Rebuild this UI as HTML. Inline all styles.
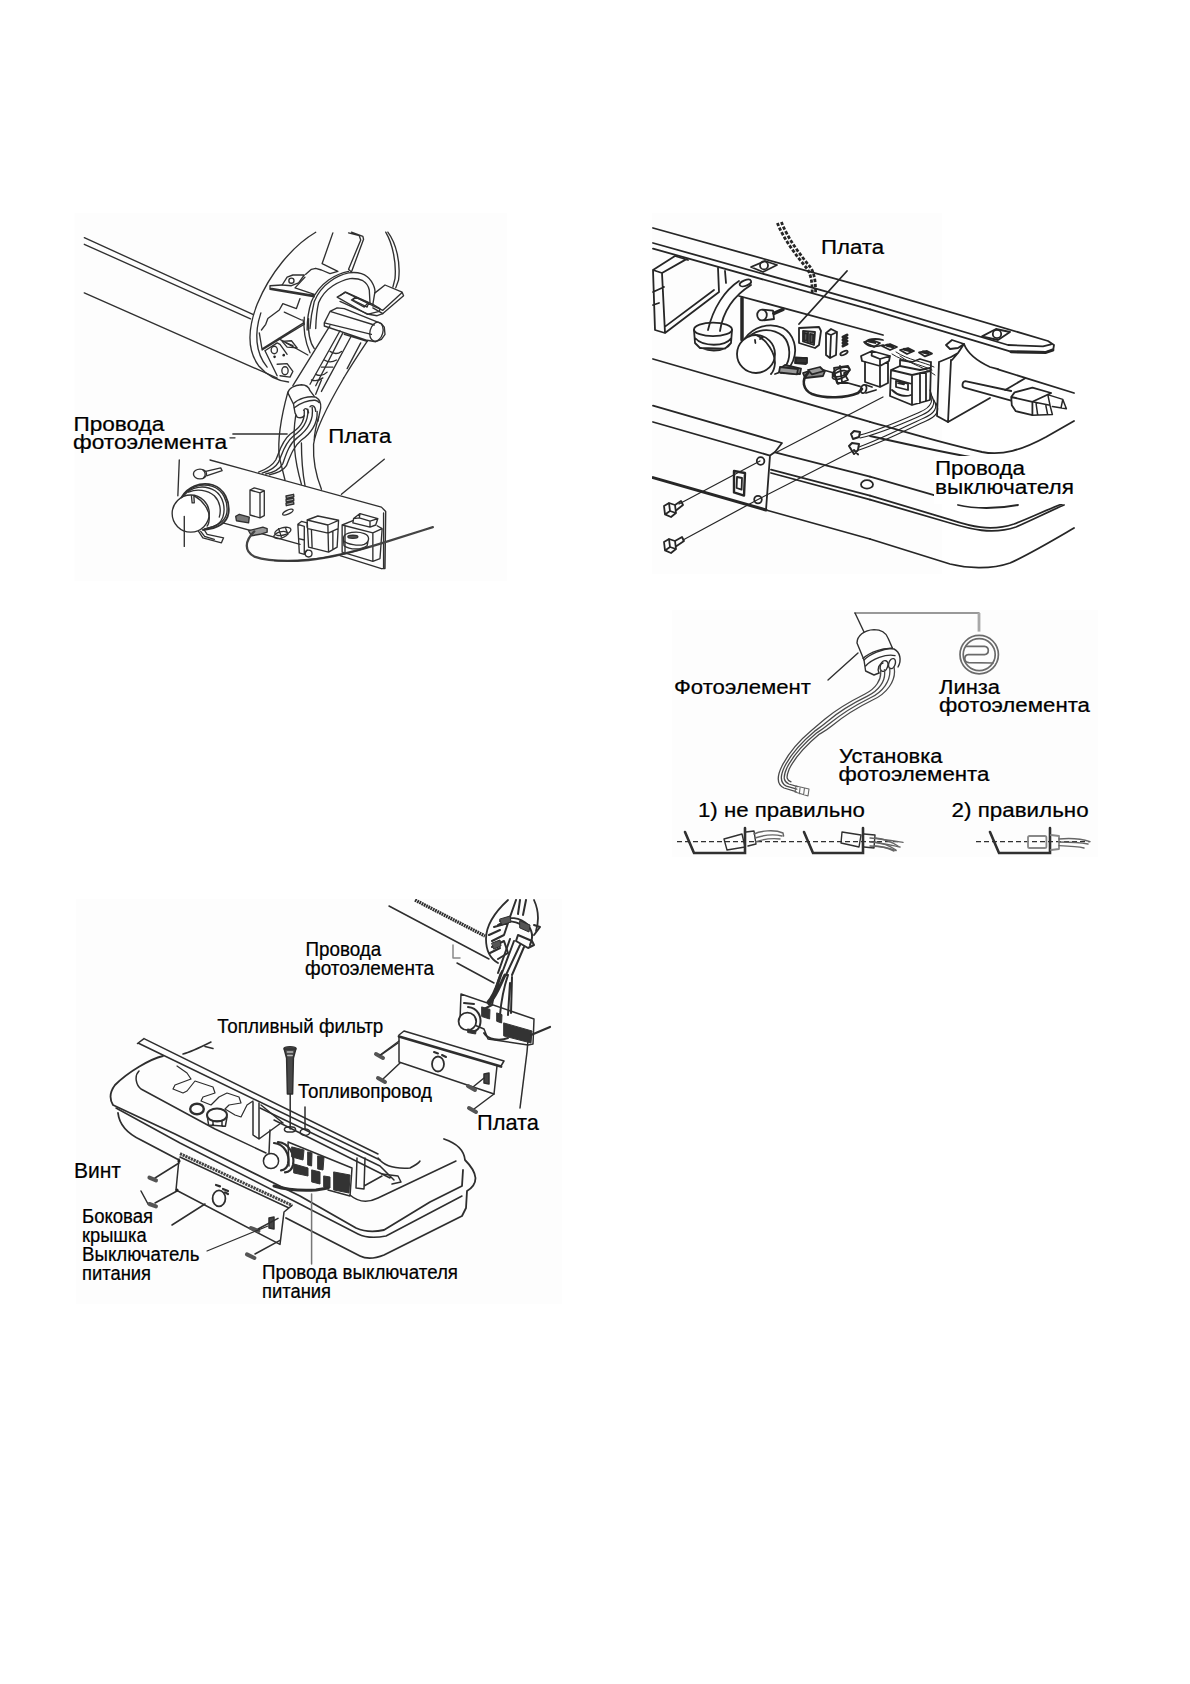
<!DOCTYPE html>
<html lang="ru"><head><meta charset="utf-8"><title>Страница</title>
<style>
html,body{margin:0;padding:0;background:#fff}
body{width:1190px;height:1684px;overflow:hidden;font-family:"Liberation Sans",sans-serif}
svg{display:block;position:absolute;left:0;top:0}
.l{fill:none;stroke-linecap:round;stroke-linejoin:round}
.l path,.l line,.l ellipse,.l circle,.l rect,.l polyline,.l polygon{vector-effect:non-scaling-stroke}
.t{fill:none;stroke:#333;stroke-width:2.2;stroke-linecap:round;stroke-linejoin:round}
.t path,.t line,.t polyline{vector-effect:non-scaling-stroke}
.w{fill:#fff}
.k{fill:#222;stroke:none}
text{font-family:"Liberation Sans",sans-serif;fill:#000;stroke:#000;stroke-width:0.22px}
</style></head><body>
<svg width="1190" height="1684" viewBox="0 0 1190 1684">
<g fill="#fdfdfd">
<rect x="74.500" y="213" width="432.500" height="368"/>
<rect x="652" y="213" width="290" height="361"/>
<rect x="672" y="610" width="426" height="247"/>
<rect x="76" y="899" width="486" height="405"/>
</g>

<!-- FIGURE 1 -->
<g class="l" stroke="#303030" stroke-width="1.35">
<!-- tile T1 origin 70,210 s3.5 : tube lines and ellipse -->
<g transform="translate(70,210) scale(0.285714)">
<path d="M50,97 L640,365 M50,120 L632,381 M50,290 L725,588"/>
<path d="M860,78 C780,125 700,220 655,330 C620,420 620,490 660,545 C690,580 730,598 765,602"/>
<path d="M668,360 C645,430 648,500 690,550"/>
</g>
<!-- tile A origin 230,210 s7 -->
<g transform="translate(230,210) scale(0.142857)">
<path d="M720,160 L645,375 L755,430 L700,445 L640,420 L600,408 L570,415 L530,450"/>
<path d="M830,160 L905,180 L915,210 L830,415 L850,435 M850,155 L930,185 L935,205 L852,428"/>
<path d="M365,525 L400,470 L440,455 L520,455 L480,510 L430,530 Z"/><circle cx="430" cy="495" r="18"/>
<path d="M280,530 L365,525 M280,530 L280,555 L590,607 M283,548 L590,598 M455,545 L590,590 M455,545 L525,470"/>
<path d="M490,620 L465,690 L370,655 L345,700 L265,760 L250,800 L220,840 M380,715 L500,770"/>
<path d="M560,830 C565,760 575,700 590,640 C615,580 650,535 700,500 C740,470 785,450 830,440 C865,435 895,437 920,445 C950,455 975,475 990,500 C1005,525 1015,550 1015,570 L1000,660"/>
<path d="M600,830 C602,760 608,700 620,650 C640,600 675,560 720,530 C760,505 800,488 840,480 C875,478 905,482 930,495 C955,510 970,535 975,560 L980,650"/>
<path d="M540,840 C540,770 550,700 570,640 C595,580 635,530 690,490 C735,460 780,440 830,430"/>
<path d="M750,610 L810,575 L1000,660 L1050,690 L1045,710 L960,730 Z M850,630 L880,610 L965,650 L940,680 Z"/>
</g>
<!-- tile C origin 340,230 s7 -->
<g transform="translate(340,230) scale(0.142857)">
<path d="M320,15 C370,100 395,230 385,340 L370,400 M335,15 C395,95 425,230 410,350 L390,405"/>
<path d="M245,440 L315,385 L435,435 L445,460 L300,585 L230,545 M435,437 L300,562 L228,530"/>
<path d="M0,460 L35,435 L230,530 M0,500 L200,590 L260,600 L300,585 M90,490 L110,470 L200,510 L190,540 Z"/>
<ellipse cx="255" cy="712" rx="45" ry="68" transform="rotate(15 255 712)"/>
</g>
<!-- tile B origin 230,300 s7 -->
<g transform="translate(230,300) scale(0.142857)">
<path d="M660,160 L700,80 L750,55 L800,60 L1060,165 L1080,190 L1085,240 L1060,275 L1020,292 L960,282 L660,182 Z M660,160 L990,240 M700,80 L1010,175 M800,240 L960,290"/>
<path d="M205,230 L225,350 L520,170 L510,140 M228,340 L515,160"/>
<path d="M245,355 L330,300 L350,310 L400,380 M245,355 L330,530 M340,270 L545,385"/>
<ellipse cx="310" cy="350" rx="22" ry="26"/><circle class="k" cx="312" cy="398" r="9"/><circle class="k" cx="376" cy="386" r="9"/>
<path d="M365,290 L430,285 L470,335 L400,330 Z M395,300 L440,320"/>
<path d="M330,450 L400,445 L440,500 L420,540 L350,530"/><ellipse cx="385" cy="495" rx="22" ry="28"/>
<path d="M520,120 C510,220 530,300 560,370 M550,130 C545,220 560,300 590,340"/>
<path d="M700,180 L440,600 M770,215 L560,590 M790,230 L600,600 M850,250 L640,640"/>
<path d="M960,290 C910,365 852.5,452.5 796,546 M915,300 L820,480"/>
<path d="M700,360 C730,380 760,375 780,360 M660,420 C690,440 720,435 745,420 M640,470 L720,470 M600,520 C630,535 660,525 680,505 M570,560 C600,570 630,560 650,545"/>

</g>
<!-- tile E origin 230,380 s7 -->
<g transform="translate(230,380) scale(0.142857)">
<path d="M20,378 L400,378 M0,405 L35,405"/>
<path d="M1080,555 L780,800"/>
<path d="M405,85 C365,230 330,400 345,540 L385,700"/>
<path d="M460,250 C435,400 450,560 500,730 M500,440 C500,560 510,660 525,740"/>
<path d="M796,-14 C700,150 600,330 585,450 C580,570 610,690 640,765"/>
<path d="M640,0 L600,100 M620,260 C600,330 590,380 590,420"/>
<path d="M405,90 C410,60 450,35 500,33 C530,33 550,45 560,75 L590,115 M405,90 L445,170 L455,230 L470,260 C490,268 510,262 520,250"/>
<path d="M445,165 C480,130 550,110 600,120 C625,135 638,165 635,195 L615,290 M450,195 C490,160 550,140 595,142 C610,145 618,150 622,158"/>
<path d="M515,212 C525,195 545,195 550,230 M560,187 C575,172 598,180 600,220"/>
<path d="M520,215 C525,300 480,340 420,380 C360,430 340,520 320,560 C290,610 240,630 200,645"/>
<path d="M545,205 C550,300 500,350 440,395 C380,445 365,520 340,575 C315,620 265,640 225,652"/>
<path d="M575,190 C590,290 530,360 470,405 C410,450 390,530 370,585 C345,630 290,650 250,658"/>
<path d="M610,220 C615,310 560,380 500,420 C440,470 420,540 395,600 C370,640 320,655 275,664"/>
</g>
<!-- tile F origin 160,460 s7 -->
<g transform="translate(160,460) scale(0.142857)">
<path d="M135,0 L125,250"/>
<path d="M350,0 L1550,330 L1580,360 L1575,760 L1550,760 M1565,370 L1565,760"/>
<path d="M440,440 L980,590 M1260,670 L1550,760"/>
<circle cx="215" cy="375" r="130" class="w"/>
<path d="M150,262 C190,190 280,150 370,175 C450,200 490,290 480,370 C470,440 400,480 300,490" stroke-width="1.8"/>
<path d="M158,256 C200,190 285,160 368,185 C440,210 478,290 468,368 C458,430 395,470 310,482"/>
<path d="M165,250 C220,185 310,170 385,215 C445,255 460,340 440,400 C425,445 380,470 330,478"/>
<path d="M170,395 L170,605"/>
<path d="M245,255 C300,285 345,350 345,400 C345,430 340,450 330,462 M220,250 L225,300 L240,300 L237,250"/>
<path d="M200,225 C260,200 330,210 380,250 C420,290 430,350 415,400"/>
<ellipse cx="280" cy="98" rx="46" ry="34"/><path d="M320,80 L425,55 L435,75 L330,110 M300,70 C320,85 322,110 305,125"/>
<path d="M270,500 L300,545 L430,580 L445,545 L330,520 L310,490 M285,500 L312,535 L380,555"/>
<path d="M630,210 L660,195 L730,215 L730,390 L700,405 L630,385 Z M700,230 L700,400 M630,210 L700,230 L730,215"/>
<path d="M530,395 L555,380 L625,400 L620,440 L535,425 Z" fill="#777"/>
<path d="M882,252 L935,240 L937,256 L884,268 Z M882,278 L935,266 L937,282 L884,294 Z M882,304 L935,292 L937,308 L884,320 Z" fill="#aaa"/>
<ellipse cx="895" cy="365" rx="40" ry="14" transform="rotate(-25 895 365)"/>
<path d="M620,495 L720,470 L750,480 L750,505 L700,520 L640,530 Z" fill="#999"/>
<ellipse cx="860" cy="500" rx="58" ry="26" transform="rotate(-15 860 500)"/><ellipse cx="845" cy="525" rx="50" ry="22" transform="rotate(-15 845 525)"/><path d="M830,480 L850,540 M880,480 L895,520"/>

</g>
<!-- tile G origin 290,470 s7 -->
<g transform="translate(290,470) scale(0.142857)">
<path d="M55,380 L80,360 L120,370 L120,400 M55,380 L65,580 L100,590 L120,560 M55,380 L100,395 L100,590 M60,480 L100,490"/>
<path d="M120,350 L195,322 L340,352 L265,385 Z M120,350 L130,540 L270,575 L330,540 L340,352 M265,385 L270,575 M125,410 L267,442 L336,410 M150,420 L155,545 M300,430 L300,555"/>
<path d="M445,340 L490,305 L615,340 L600,385 L560,400 L440,370 Z M490,305 L485,335 L560,358 L560,400 M485,335 L445,340 M560,358 L615,340"/>
<path d="M365,385 L440,355 M365,385 L580,440 L645,410 L610,390 M365,385 L365,575 L580,640 L630,620 L645,410 M580,440 L580,640 M385,395 L385,575"/>
<path d="M375,470 C385,435 470,425 520,445 C560,460 560,500 520,520 C480,535 400,520 375,495 Z M375,495 L378,530 C420,560 500,560 540,530 L548,490"/>
<ellipse cx="440" cy="468" rx="35" ry="11" fill="#555"/>

<circle cx="130" cy="585" r="24"/>
</g>
<g transform="translate(160,380) scale(0.285714)">
<path d="M330,530 C295,565 295,600 330,618 C380,635 460,635 520,630 C600,622 700,595 780,570 C850,548 900,532 955,515" stroke-width="2.3" stroke="#444"/>
<path d="M400,632 C500,640 640,615 730,585" stroke-width="1.2"/>
</g>
</g>

<!-- FIGURE 2 -->
<clipPath id="c2"><rect x="652" y="213" width="423" height="361"/></clipPath>
<g class="l" stroke-width="1.8" stroke="#262626" clip-path="url(#c2)">
<!-- tile 2A origin 645,215 s5 -->
<g transform="translate(645,215) scale(0.2)">
<path d="M40,65 L1125,367 M40,140 L1125,444 M40,168 L1125,472"/>
<path d="M470,405 L1190,600"/>
<path d="M485,415 L485,625" stroke-width="3.5"/>
<path d="M40,275 L150,205 L215,225 M40,275 L85,290 L100,590 L50,575 Z M85,290 L205,222 M100,590 L370,385 L365,265 M100,558 L345,375 M400,280 L405,340 M40,385 L95,360 M40,450 L70,440"/>
<path d="M470,330 C400,375 340,465 315,575 M530,350 C450,400 390,480 375,580"/><ellipse cx="502" cy="340" rx="30" ry="14" transform="rotate(-20 502 340)"/>
<ellipse cx="340" cy="572" rx="95" ry="34"/><path d="M245,575 L250,640 C290,690 400,690 430,640 L435,575 M250,615 C290,660 400,660 432,615 M250,640 L275,665 L400,668 L430,640"/>
<path d="M530,260 L600,230 L660,250 L590,285 Z"/><circle cx="595" cy="252" r="20"/>
<path d="M662,40 C692,120 762,210 812,270 C835,310 836,350 836,395" stroke-width="2.8" stroke-dasharray="3.4 1.7" stroke-linecap="butt"/>
<path d="M682,35 C712,115 780,205 830,265 C852,305 853,350 853,395" stroke-width="2.8" stroke-dasharray="3.4 1.7" stroke-linecap="butt"/>
<path d="M1010,280 L770,545"/>
<ellipse cx="585" cy="500" rx="24" ry="27"/><path d="M590,473 L640,478 L645,520 L595,527 M640,492 L690,472" /><path d="M645,492 L690,472" stroke-width="3.5"/>
<circle cx="555" cy="695" r="95" class="w"/>
<path d="M500,618 C540,560 620,535 690,565 C745,595 765,670 740,730 C725,765 705,785 680,790"/>
<path d="M520,608 C570,565 640,565 690,605 C730,645 730,720 700,760 C685,780 670,790 650,795"/>
<path d="M560,602 C610,625 650,690 650,740 C648,765 640,785 630,795 M550,625 L552,640 M575,620 L590,610"/>
<path d="M770,565 L870,560 L880,580 L870,650 L850,665 L770,640 Z M790,580 L850,585 L845,650 L790,632 Z M815,582 L815,640"/><path d="M795,590 L812,592 L810,630 L795,625 Z M825,595 L842,597 L840,640 L825,636 Z" fill="#555"/>
<path d="M905,590 L930,570 L960,585 L955,700 L925,715 L905,700 Z M930,600 L925,715 M905,590 L930,600 L960,585"/>
<path d="M990,610 L1010,600 M990,625 L1010,615 M990,640 L1010,630 M990,655 L1010,645" stroke-width="3"/><ellipse cx="995" cy="690" rx="20" ry="8" transform="rotate(-25 995 690)"/>
<path d="M752,712 L808,716 L805,745 L750,740 Z" fill="#333"/>
<path d="M680,765 L700,750 L780,768 L775,795 L690,790 Z M790,790 L850,770 L900,780 L890,805 L800,815 Z" fill="#888"/>
<ellipse cx="980" cy="785" rx="45" ry="20" transform="rotate(-20 980 785)"/><ellipse cx="975" cy="800" rx="40" ry="18" transform="rotate(-20 975 800)"/>
<path d="M1100,640 C1110,620 1150,615 1190,625 M1100,640 C1120,660 1160,660 1190,650"/>
</g>
<!-- tile 2M origin 760,330 s5 -->
<g transform="translate(760,330) scale(0.2)">
<path d="M505,130 L560,105 L650,130 L645,155 L600,180 L510,155 Z M560,105 L558,128 L600,145 L600,180 M600,145 L650,130 M525,160 L525,260 L600,285 L640,265 L640,160 M600,180 L600,285"/>
<path d="M520,60 L560,50 L600,65 L570,85 Z M610,80 L650,70 L685,85 L650,100 Z M700,100 L740,90 L770,105 L735,120 Z M795,112 L835,105 L860,118 L825,132 Z" />
<path d="M545,55 L575,62 M635,76 L665,84 M722,97 L752,104 M815,110 L840,116" stroke-width="3"/>
<path d="M655,200 L700,180 L800,200 L850,190 M655,200 L650,330 L760,375 L850,350 L855,160 M655,200 L760,225 L850,205 M760,225 L760,375 M655,240 L760,270 M800,215 L800,365 M830,210 L830,355 M700,180 L700,150 L760,160 L800,145 L850,160"/>
<path d="M680,255 L740,268 L740,300 L680,285 Z M690,265 L720,272" /><path d="M660,300 C690,330 730,335 755,325"/>
<path d="M660,120 C720,160 800,170 860,200 M680,110 C740,150 820,160 870,185 M700,130 C760,175 830,190 875,225" stroke-width="1"/>
<path d="M850,300 C870,350 860,385 800,410 C720,445 600,500 500,525 M860,330 C880,370 865,400 810,425 C730,460 610,515 500,540 M870,350 C890,390 875,415 820,440 C740,475 620,540 495,585 M880,365 C900,405 885,430 830,455 C750,490 630,555 495,600" stroke-width="1.1"/>
<path d="M455,520 L470,505 L500,510 L495,535 L465,545 Z M445,580 L460,565 L495,570 L490,600 L470,620 Z M470,600 L490,622" stroke-width="2"/>
<path d="M240,215 C205,250 215,300 260,320 C330,345 430,340 490,315 L510,295" stroke-width="2.6"/>
<ellipse cx="518" cy="295" rx="14" ry="21" transform="rotate(15 518 295)"/><path d="M530,275 L560,285 M530,315 L580,300"/>
<path d="M300,195 L370,215 L385,265 L440,265 L500,282"/>
<path d="M180,140 L235,140 L235,165 L180,165 Z" fill="#333"/>
<path d="M100,185 L190,195 L185,222 L95,212 Z M240,200 L300,185 L320,205 L260,222 Z" fill="#999"/>
<path d="M370,190 L440,180 L450,200 L420,215 L440,250 L390,270 L375,225 Z M400,180 L410,260"/>
<!-- end bracket -->
<path d="M895,160 L885,430 L940,460 L955,150 M895,160 L955,135 M930,75 L960,50 L1020,70 L990,115 L955,135 M930,75 L950,95 L990,90 L1020,70 M990,115 L960,150"/>
<path d="M1020,70 C1035,110 1075,150 1150,185 L1190,196"/>
<path d="M940,460 L1150,340"/>
</g>
<!-- tile 2D' origin 870,300 s5 -->
<g transform="translate(870,300) scale(0.2)">
<path d="M0,-58 L890,205 L920,225 L916,250 L880,260 L700,257 L0,47 M0,19 L690,225 L865,232 L905,222"/>
<path d="M560,182 L630,145 L700,160 L640,200 Z"/><circle cx="635" cy="170" r="21"/>
<path d="M705,259 L880,262 L914,250" stroke-width="3"/>
<path d="M640,347 L1020,465"/>
<path d="M476,406 L706,455 M471,438 L706,503 M476,406 C460,408 458,436 471,438"/>
<path d="M706,485 L812,509 L812,576 L729,556 L709,526 Z M706,485 L723,462 L812,438 L906,465 L812,509"/>
<path d="M812,509 L900,526 L912,573 L812,576 M900,526 L890,478 M888,473 L964,497 L982,544 L912,532 M964,497 L955,540 M830,515 L838,572 M878,522 L888,572" stroke-width="1.5"/>
<path d="M776,391 L676,450"/>
</g>
<!-- tile 2C origin 645,380 s5 -->
<g transform="translate(645,380) scale(0.2)">
<path d="M40,-105 L1125,209"/>
<path d="M40,128 L685,315 L650,360 L625,378 L40,210 M625,378 L605,650" stroke-width="1.8"/>
<path d="M40,488 L605,650" stroke-width="3"/>
<path d="M170,620 L575,405 M660,360 L1190,85 M190,800 L560,600 L1040,355" stroke-width="1.2"/>
<circle cx="578" cy="405" r="19"/><circle cx="565" cy="598" r="19"/>
<path d="M445,455 L500,465 L495,578 L445,562 Z" stroke-width="2.4"/><path d="M460,485 L485,490 L483,548 L458,540 Z"/>
<path d="M95,630 L120,615 L150,625 L155,665 L130,685 L100,672 Z M150,625 L180,605 L190,625 L158,650 M120,615 L125,655 L100,672 M125,655 L155,665"/>
<path d="M95,810 L120,795 L150,805 L155,845 L130,865 L100,852 Z M150,805 L185,785 L195,805 L158,830 M120,795 L125,835 L100,852 M125,835 L155,845"/>
<path d="M650,362 L1125,483.4 M630,448 L1125,578 M630,465 L1125,597.6 M605,650 L1125,795"/>
<ellipse cx="1110" cy="522" rx="30" ry="21"/>
</g>
<!-- tile 2F origin 870,420 s5 -->
<g transform="translate(870,420) scale(0.2)">
<path d="M0,9 C100,36 300,100 560,160 C660,180 760,150 880,85 L1020,5"/>
<path d="M0,80 C200,125 400,170 560,195"/>
<path d="M0,283.5 L320,376 M440,425 C520,445 640,445 740,425"/>
<path d="M0,378 L400,498 C500,530 600,560 720,520 C800,490 880,450 960,420 M0,398 L400,515 C500,545 610,575 730,535 C810,500 890,460 970,425"/>
<path d="M0,595 L400,720 C480,740 600,750 700,715 C800,670 900,610 1020,540"/>
</g>
</g>
<rect x="934" y="456" width="141" height="48" fill="#fff"/>

<!-- FIGURE 3 -->
<g class="l" stroke="#303030" stroke-width="1.4">
<!-- tile 3A origin 770,600 s5 -->
<g transform="translate(770,600) scale(0.2)">
<path d="M425,65 L1045,65" stroke="#777" stroke-width="1.7"/><path d="M1045,65 L1045,158" stroke="#a8a8a8" stroke-width="2.8" stroke-linecap="butt"/>
<path d="M425,65 L470,160 M440,265 L290,400"/>
<path d="M435,215 C435,180 470,150 520,148 C560,148 580,165 590,190 L612,240 M435,215 L470,300 L478,355 L520,375 L545,365"/>
<path d="M465,292 C500,260 570,235 620,245 C650,260 660,300 640,335 M478,330 C510,295 580,268 625,278 M545,365 C535,340 545,320 565,315"/>
<path d="M470,300 C500,270 560,245 612,240"/>
<ellipse cx="570" cy="330" rx="18" ry="28" transform="rotate(20 570 330)"/><ellipse cx="610" cy="318" rx="16" ry="26" transform="rotate(20 610 318)"/>
<g stroke="#4a4a4a" stroke-width="1.3">
<path d="M552,345 C562,400 525,445 475,470 C405,505 335,545 275,595 C245,620 225,638 210,650 C150,700 90,770 60,830 C30,890 40,925 70,940 L130,958"/>
<path d="M572,348 C582,408 540,455 487,481 C417,515 347,557 287,607 C257,632 237,646 222,657 C162,707 102,775 72,835 C46,890 54,917 82,931 L134,946"/>
<path d="M598,340 C608,405 560,462 500,490 C428,526 358,568 298,618 C268,643 250,654 234,664 C174,714 114,780 84,840 C62,890 70,908 94,920 L138,933"/>
<path d="M620,335 C635,405 580,470 513,500 C440,536 370,579 310,629 C280,654 262,662 246,671 C186,721 126,785 96,845 C78,890 84,900 105,909"/>
</g>
<g stroke="#6a6a6a" stroke-width="1.7"><circle cx="1046" cy="273" r="96"/><circle cx="1046" cy="273" r="80"/>
<path d="M981,232 L1072,232 C1098,234 1098,271 1072,273 L991,273 C968,276 968,311 994,313 L1115,315"/></g>
</g>
<!-- tile 3B origin 660,730 s5 -->
<g transform="translate(660,730) scale(0.2)">
<g stroke="#666" stroke-width="1.1">
<path d="M680,280 L745,295 L740,330 L675,310 Z M700,290 L697,318 M722,293 L718,324"/>
</g>
<path d="M125,510 L170,615 L425,615 L425,490" stroke-width="2.6" stroke-linejoin="miter"/>
<path d="M85,558 L1190,558" stroke-dasharray="5 3" stroke-linecap="butt" stroke-width="1.2"/>
<path d="M320,545 L410,520 L425,585 L335,600 Z M430,510 L470,505 L480,570 L440,580"/>
<path d="M470,520 C500,505 570,495 615,515 L618,530 M475,540 C520,525 570,520 610,530 M478,560 C520,545 560,540 600,545" stroke="#666"/>
<path d="M720,510 L765,615 L1015,615 L1015,490" stroke-width="2.6" stroke-linejoin="miter"/>
<path d="M910,510 L1005,525 L995,585 L905,565 Z M1020,520 L1075,525 L1070,590 L1020,585"/>
<path d="M1078,540 C1120,545 1160,560 1190,580 M1075,560 C1120,565 1150,580 1180,600 M1075,580 C1110,582 1140,590 1170,605" stroke="#666"/>
</g>
<!-- tile 3C origin 870,730 s5 -->
<g transform="translate(870,730) scale(0.2)">
<path d="M0,540 C60,545 120,555 165,562 M0,560 C60,565 100,575 150,585 M0,580 C50,582 100,590 130,603" stroke="#666"/>
<path d="M600,510 L645,615 L900,615 L900,490" stroke-width="2.6" stroke-linejoin="miter"/>
<path d="M530,558 L1100,558" stroke-dasharray="5 3" stroke-linecap="butt" stroke-width="1.2"/>
<rect x="790" y="530" width="92" height="60" rx="8" stroke="#888" stroke-width="1.8"/>
<path d="M905,525 L945,530 L945,595 L905,600" stroke="#888" stroke-width="1.8"/>
<path d="M945,545 C1000,540 1060,545 1100,558 M945,560 C1000,560 1050,562 1090,570 M945,578 C1000,580 1040,582 1070,590" stroke="#666"/>
</g>
</g>

<!-- FIGURE 4 -->
<clipPath id="c4"><rect x="76" y="899" width="486" height="405"/></clipPath>
<g class="l" stroke-width="1.5" stroke="#2e2e2e" clip-path="url(#c4)">
<!-- long lines in page coords -->
<path d="M144,1038.6 L378,1154 M138,1043 L380,1160 M137.5,1043.5 L144,1038.6"/>
<path d="M260,1108 L380,1166 L394,1180 M274,1120 L390,1178"/>
<path d="M382,1174 L398,1176 L401,1182 L392,1184"/>
<path d="M378,1158 C384,1166 396,1169 410,1168 C414,1166 418,1164 420,1161"/>
<!-- tank contours -->
<path d="M163,1056 C150,1059 128,1072 115,1085 C109,1093 110,1100 113,1105 L175,1134 L300,1196 L356,1228 C365,1232 375,1232 384,1230 L430,1202 L462,1186 L463,1170" stroke-width="1.8"/>
<path d="M116,1108 L180,1143 L292,1200 L358,1234 C366,1238 376,1238 386,1236 L462,1196"/>
<path d="M118,1113 C119,1122 124,1132 141,1140 L179,1160 M286,1218 L360,1256 C366,1259 374,1259 384,1255 L462,1216 L466,1208 L467,1191 C472,1188 475.5,1183 475.5,1178 C475,1172 470,1165 465,1160 C464,1150 456,1143 444,1139" stroke-width="1.8"/>
<path d="M139,1071 C134,1076 136,1085 141,1089 L215,1129 L266,1153 M350,1195 C358,1202 368,1203 378,1198 L456,1161"/>
<!-- tile 4A origin 75,985 s5 -->
<g transform="translate(75,985) scale(0.2)">
<path d="M540,345 C580,335 630,310 680,285 M650,308 L690,318"/>
<path d="M510,405 L560,440 L580,470 L500,500 L490,520 L540,540 L560,530 L600,480 L690,510 L700,540 L640,560 L630,580 L680,600 L720,560 L760,540 L820,560 L830,590 L770,600 L750,620 L800,650 L830,660 L860,600 L890,580" stroke-width="1.2"/>
<ellipse cx="610" cy="620" rx="34" ry="26" stroke-width="2.4"/>
<ellipse cx="710" cy="650" rx="50" ry="33" stroke-width="2"/><path d="M662,660 L668,700 L752,706 L760,660 M690,680 L735,680 L735,706 M690,680 L690,704"/>
<path d="M890,585 L890,750 L920,770 L920,590 M920,770 L1030,690 M930,600 L1040,690"/>
<ellipse cx="1075" cy="318" rx="30" ry="9" fill="#555"/><path d="M1046,320 L1058,365 L1062,545 L1088,545 L1092,365 L1104,320 Z" fill="#484848"/><path d="M1062,335 L1088,335 M1064,352 L1086,352" stroke="#bbb"/>
<path d="M1076,545 L1076,720 M1150,610 L1150,720"/>
<ellipse cx="1075" cy="722" rx="28" ry="13"/><ellipse cx="1150" cy="736" rx="24" ry="16"/>
</g>
<!-- tile 4H origin 180,1100 s5 -->
<g transform="translate(180,1100) scale(0.2)">
<path d="M885,290 L880,440 L920,445 L925,290 M920,430 L1010,380"/>
<path d="M450,150 L445,265"/>
<circle cx="455" cy="305" r="38" class="w"/>
<path d="M470,215 C520,220 550,270 540,320 C535,340 520,350 505,352 M490,210 C545,215 575,270 565,325 C560,345 545,360 525,362" stroke-width="2.2"/>
<g fill="#333" stroke="#333" stroke-width="1">
<path d="M560,235 L620,250 L615,300 L560,285 Z M640,260 L660,265 L658,330 L640,325 Z M690,280 L720,285 L715,350 L690,345 Z M570,320 L640,340 L640,380 L570,365 Z M660,350 L700,360 L700,420 L660,410 Z M770,360 L850,375 L845,465 L770,450 Z M720,380 L750,385 L750,440 L720,435 Z"/>
</g>
<path d="M540,210 L860,340 L850,480 L740,450 M540,210 L545,330"/>
<path d="M470,430 C520,445 600,455 680,450 L740,440" stroke-width="3"/>
<path d="M658,470 L658,820" stroke="#777"/>
<!-- panel 1 -->
<path d="M0,268 L560,527" stroke-width="3" stroke-dasharray="2.2 0.8" stroke-linecap="butt" stroke="#444"/>
<path d="M-5,295 L-20,450 L500,722 L520,560 L560,527 M0,285 L545,540"/>
<ellipse cx="195" cy="492" rx="32" ry="40" stroke-width="1.8"/><path d="M180,425 L200,432 M215,445 L240,455 M225,462 L240,470" stroke-width="2.2"/>
<path d="M445,590 L470,585 L470,645 L445,640 Z" fill="#444"/>
<path d="M390,645 L490,592 M375,770 L500,702"/><path d="M355,640 L392,655 M335,772 L372,790" stroke-width="4" stroke="#555"/>
<path d="M135,755 L440,630" stroke-width="1.2"/>
</g>
<!-- tile 4D origin 75,1120 s5 -->
<g transform="translate(75,1120) scale(0.2)">
<path d="M485,525 L650,420 M400,290 L520,215 M400,415 L510,355 M330,355 L365,420"/><path d="M372,288 L405,302 M372,420 L405,432" stroke-width="4" stroke="#555"/>
<circle cx="520" cy="205" r="8" class="k"/><circle cx="510" cy="350" r="8" class="k"/>
</g>
<!-- panel 2 page coords -->
<path d="M399,1035 L404,1031 L504,1061 L501,1066" /><path d="M399,1036.5 L501,1066.5" stroke-width="2.8"/>
<path d="M399,1037 L399,1062 L494,1094 L497,1066"/>
<ellipse cx="438" cy="1064" rx="6" ry="7.5" stroke-width="1.8"/><path d="M434,1052 L438,1053.500 M442,1055 L446,1057" stroke-width="2"/>
<path d="M484,1074 L489,1073 L489,1084 L484,1083 Z" fill="#444"/>
<path d="M381,1055 L398,1043 M383,1079 L400,1063 M473,1087 L484,1078 M474,1109 L494,1094"/>
<path d="M376,1054 L383,1058 M378,1078 L385,1082 M468,1086 L475,1090 M469,1108 L476,1112" stroke-width="4" stroke="#555"/>
<path d="M528,1040 L527,1052 L520,1108"/>
<path d="M380,1055 L399,1041" stroke-width="1.2"/>
<!-- tile 4C origin 380,895 s5 : mini assembly -->
<g transform="translate(380,895) scale(0.2)">
<path d="M175,25 L525,205" stroke-width="3.4" stroke-dasharray="1.8 0.7" stroke-linecap="butt"/>
<path d="M45,55 L545,320 M385,340 L570,440"/>
<path d="M365,250 L365,315 L400,315" stroke="#888"/>
<path d="M640,25 C580,80 530,150 530,220 C530,280 555,320 590,340 M770,25 C795,80 795,130 780,180" stroke-width="1.8"/>
<path d="M680,25 L650,110 M730,25 L715,100 M700,25 L690,95 M600,130 C640,105 700,110 740,150 C765,185 765,220 750,250 M590,150 C635,122 690,128 725,165 M570,160 L640,140 L620,200 L560,230 M560,260 L620,230 L640,290 L590,320 M545,200 L600,175 M550,290 L600,265" stroke-width="2"/>
<path d="M600,120 L650,105 L655,135 L610,150 Z M700,130 L750,150 L745,185 L700,165 Z M560,240 L600,225 L605,255 L570,270 Z" fill="#555" stroke-width="1"/>
<path d="M690,200 L760,230 L770,250 L740,265 L680,230 Z M650,220 L590,390 M700,250 L630,400 M720,260 L660,400 M670,230 L610,390 M610,380 C590,430 570,480 560,550 L520,570 M640,400 C620,460 605,540 600,600 M650,440 L640,600 M660,410 L655,590" stroke-width="2"/>
<path d="M770,150 L800,160 L770,200" stroke-width="2"/>
<path d="M625,400 C600,450 585,500 545,545 M605,395 C585,450 575,500 540,535" stroke-width="3"/>
<path d="M405,495 L770,620 L765,745 L740,750 M405,495 L400,625 M400,620 L520,670 L540,720 L740,750"/>
<circle cx="437" cy="632" r="44" class="w" stroke-width="1.8"/><path d="M440,560 C490,565 510,610 500,650 C495,670 480,680 465,682 M420,540 L470,545" stroke-width="2"/>
<g fill="#333" stroke="#333" stroke-width="1"><path d="M510,560 L550,572 L548,620 L510,608 Z M585,590 L610,598 L608,640 L585,632 Z M620,640 L760,680 L755,740 L620,705 Z M440,670 L480,680 L478,695 L440,688 Z"/></g>
<path d="M520,690 C540,725 600,730 640,715" stroke-width="2"/>
<path d="M755,700 L850,660" stroke-width="2.2"/>
</g>
</g>

<g font-size="20" stroke="#000" stroke-width="0.3">
<text x="73.4" y="430.8" textLength="91" lengthAdjust="spacingAndGlyphs">Провода</text>
<text x="73" y="449.2" textLength="154" lengthAdjust="spacingAndGlyphs">фотоэлемента</text>
<text x="328.3" y="443.4" textLength="63" lengthAdjust="spacingAndGlyphs">Плата</text>
<text x="821" y="254.2" textLength="63" lengthAdjust="spacingAndGlyphs">Плата</text>
<text x="935" y="474.6" textLength="90" lengthAdjust="spacingAndGlyphs">Провода</text>
<text x="935" y="494.2" textLength="139" lengthAdjust="spacingAndGlyphs">выключателя</text>
<text x="674" y="694" textLength="137" lengthAdjust="spacingAndGlyphs">Фотоэлемент</text>
<text x="939" y="694" textLength="61" lengthAdjust="spacingAndGlyphs">Линза</text>
<text x="939" y="712" textLength="151" lengthAdjust="spacingAndGlyphs">фотоэлемента</text>
<text x="839" y="762.6" textLength="103.4" lengthAdjust="spacingAndGlyphs">Установка</text>
<text x="838.4" y="781.4" textLength="151" lengthAdjust="spacingAndGlyphs">фотоэлемента</text>
<text x="698" y="817" textLength="167" lengthAdjust="spacingAndGlyphs">1) не правильно</text>
<text x="951.6" y="817" textLength="137" lengthAdjust="spacingAndGlyphs">2) правильно</text>
</g>
<g font-size="19.5" stroke="#000" stroke-width="0.3">
<text x="305.6" y="956.4" textLength="75.6" lengthAdjust="spacingAndGlyphs">Провода</text>
<text x="305" y="975" textLength="129" lengthAdjust="spacingAndGlyphs">фотоэлемента</text>
<text x="217.3" y="1032.6" textLength="166" lengthAdjust="spacingAndGlyphs">Топливный фильтр</text>
<text x="298" y="1098" textLength="134" lengthAdjust="spacingAndGlyphs">Топливопровод</text>
<text x="82" y="1223" textLength="71" lengthAdjust="spacingAndGlyphs">Боковая</text>
<text x="82" y="1241.6" textLength="64.6" lengthAdjust="spacingAndGlyphs">крышка</text>
<text x="82" y="1261" textLength="117.4" lengthAdjust="spacingAndGlyphs">Выключатель</text>
<text x="82" y="1280" textLength="69" lengthAdjust="spacingAndGlyphs">питания</text>
<text x="262" y="1279.4" textLength="196" lengthAdjust="spacingAndGlyphs">Провода выключателя</text>
<text x="262" y="1298.2" textLength="69" lengthAdjust="spacingAndGlyphs">питания</text>
</g>
<g font-size="22.5" stroke="#000" stroke-width="0.3">
<text x="477" y="1130.2" textLength="62" lengthAdjust="spacingAndGlyphs">Плата</text>
<text x="74" y="1178.4" textLength="47" lengthAdjust="spacingAndGlyphs">Винт</text>
</g>

</svg>
</body></html>
